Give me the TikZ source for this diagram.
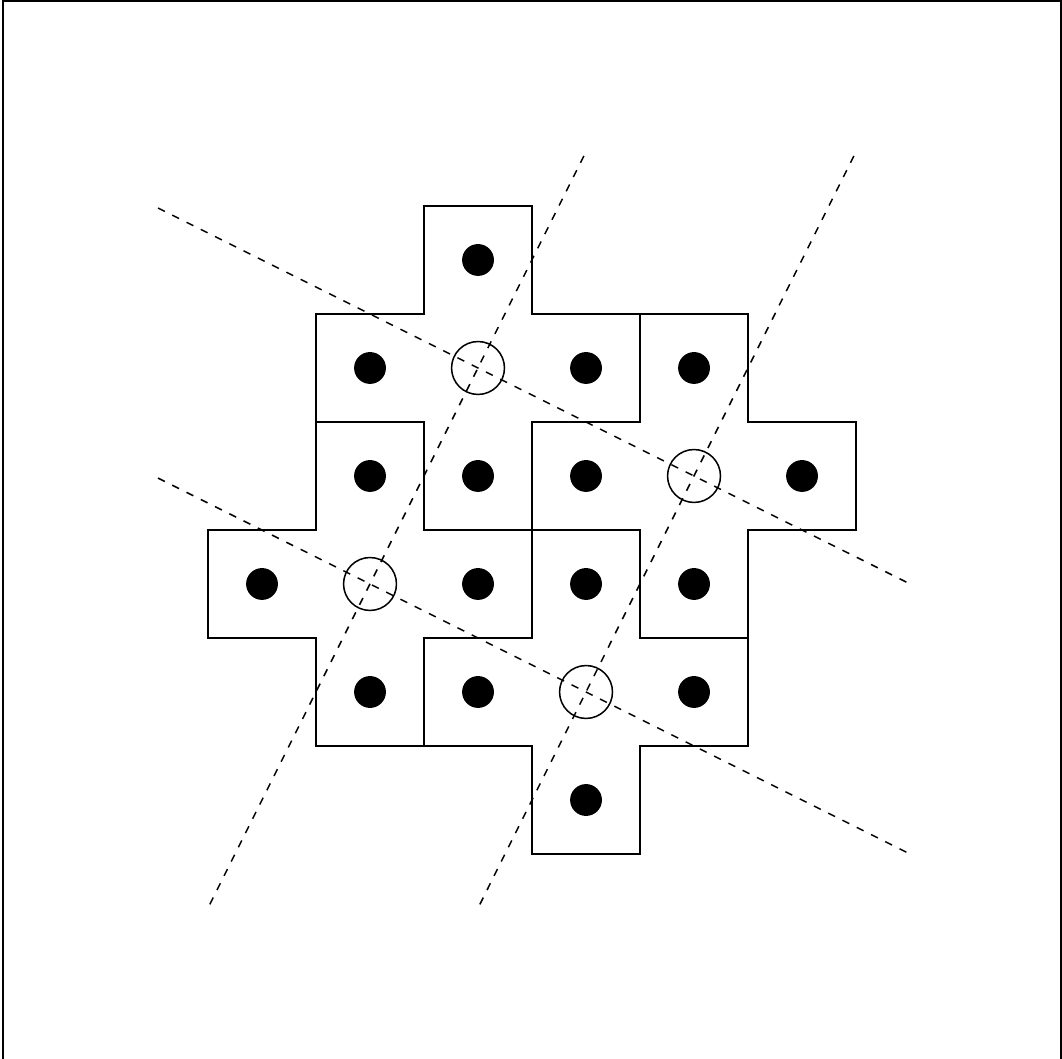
\documentclass[tikz,border=0pt]{standalone}
\usepackage{xcolor}
\usetikzlibrary{calc}
\tikzset{
  % cell outlines of the four plus-shaped tiles
  tile/.style  = {draw=black, line width=0.4pt},
  guide/.style = {draw=black, line width=0.4pt, dash pattern=on 2pt off 2.2pt},
  site/.style  = {circle, fill=black, inner sep=0pt, minimum size=2.95mm},
  hole/.style  = {circle, draw=black, line width=0.4pt, inner sep=0pt, minimum size=4.9mm},
  frm/.style   = {draw=black, line width=0.5pt},
}

\begin{document}
\begin{tikzpicture}[x=1cm,y=1cm]
\useasboundingbox (-2.426,-7.398) rectangle (7.407,2.407);
% --- frame ----------------------------------------------------------------
\draw[frm] (-2.398,-7.45) rectangle (7.398,2.398);
% --- plus-shaped tiles -----------------------------------------------------
\foreach \a/\b in {2/-1, 4/-2, 1/-3, 3/-4}
  \draw[tile] (\a-0.5,\b+1.5) -- (\a+0.5,\b+1.5) -- (\a+0.5,\b+0.5)
      -- (\a+1.5,\b+0.5) -- (\a+1.5,\b-0.5) -- (\a+0.5,\b-0.5)
      -- (\a+0.5,\b-1.5) -- (\a-0.5,\b-1.5) -- (\a-0.5,\b-0.5)
      -- (\a-1.5,\b-0.5) -- (\a-1.5,\b+0.5) -- (\a-0.5,\b+0.5) -- cycle;
% --- filled sites ----------------------------------------------------------
\foreach \a/\b [count=\i] in {2/0, 1/-1, 3/-1, 4/-1, 1/-2, 2/-2, 3/-2, 5/-2,
                              0/-3, 2/-3, 3/-3, 4/-3, 1/-4, 2/-4, 4/-4, 3/-5}
  \node[site] (s\i) at (\a,\b) {};
% --- open sites ------------------------------------------------------------
\node[hole] (h1) at (2,-1) {};
\node[hole] (h2) at (4,-2) {};
\node[hole] (h3) at (1,-3) {};
\node[hole] (h4) at (3,-4) {};
% --- guide lines -----------------------------------------------------------
\coordinate (a1) at (-0.963,0.481);
\coordinate (a2) at (6,-3);
\coordinate (b1) at (-0.963,-2.019);
\coordinate (b2) at (6,-5.5);
\coordinate (c1) at (2.98,0.963);
\coordinate (c2) at (-0.5,-6);
\coordinate (d1) at (5.48,0.963);
\coordinate (d2) at (2,-6);
\draw[guide] (a1) -- (a2);
\draw[guide] (b1) -- (b2);
\draw[guide] (c1) -- (c2);
\draw[guide] (d1) -- (d2);
\end{tikzpicture}
\end{document}
